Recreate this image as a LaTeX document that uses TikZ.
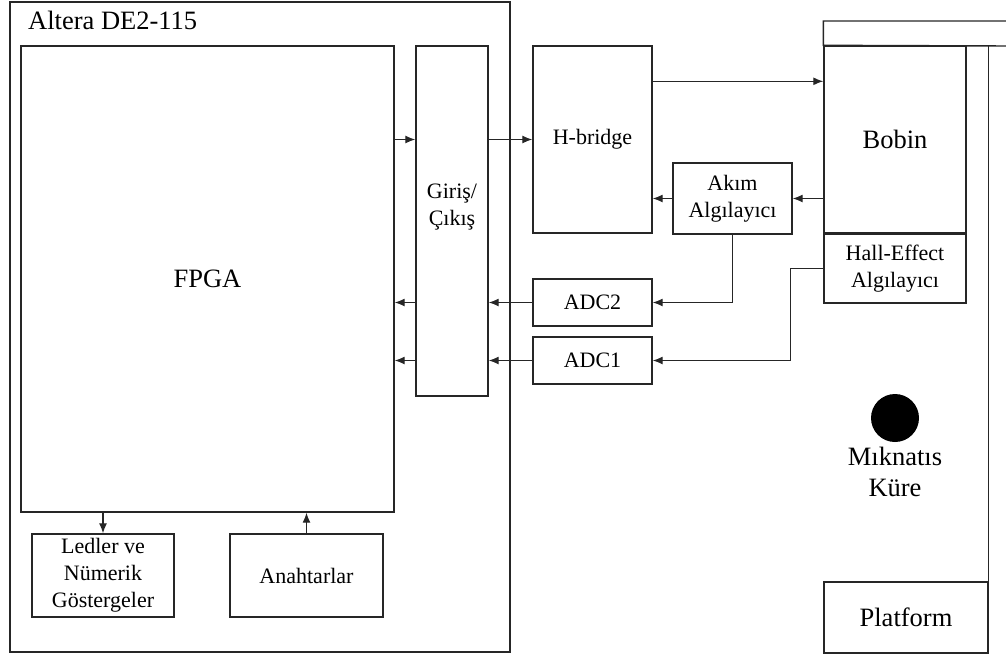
\documentclass[tikz,border=0pt]{standalone}
\usepackage{fontspec}
\setmainfont{Liberation Serif}
\usetikzlibrary{positioning,arrows.meta}

\begin{document}
\begin{tikzpicture}[
  x=1pt, y=-1pt,
  font=\fontsize{22}{27}\selectfont,
  blk/.style = {draw=black!85, line width=1.4pt, minimum width=119pt,
                align=center, inner sep=2pt},
  big/.style = {font=\fontsize{26.5}{31}\selectfont},
  ar/.style  = {-{Latex[length=10pt,width=8pt]}, draw=black!85, line width=1.3pt},
  lbl/.style = {align=center, inner sep=0pt},
]
  \useasboundingbox (0,0) rectangle (1006,659);

  % ---- board ------------------------------------------------
  \node[blk, minimum width=500pt, minimum height=650pt] (de2) at (260, 327) {};
  \node[big, anchor=base west, inner sep=0pt] (de2lbl) at (28, 29) {Altera DE2-115};

  \node[blk, big, minimum width=373pt, minimum height=466pt] (fpga) at (207.5, 279) {FPGA};
  \node[blk, minimum width=72pt, minimum height=350pt] (io) at (452, 221) {};
  \node[lbl] (iotxt) at (452, 207) {Giriş/\\Çıkış};

  \node[blk, minimum width=142pt, minimum height=83pt] (led) at (103, 575.5)
    {Ledler ve\\Nümerik\\Göstergeler};
  \node[blk, minimum width=153pt, minimum height=83pt] (sw) at (306.5, 575.5) {Anahtarlar};

  % ---- driver and converters --------------------------------
  \node[blk, minimum height=187pt] (hb)   at (592.5, 139.5) {H-bridge};
  \node[blk, minimum height=71pt]  (akim) at (732.5, 198.5) {Akım\\Algılayıcı};
  \node[blk, minimum height=47pt]  (adc2) at (592.5, 302.5) {ADC2};
  \node[blk, minimum height=47pt]  (adc1) at (592.5, 360.5) {ADC1};

  % ---- levitation rig ---------------------------------------
  \node[blk, big, minimum width=142pt, minimum height=187pt] (bobin) at (895, 139.5) {Bobin};
  \node[blk, minimum width=142pt, minimum height=69pt] (hall) at (895, 268.5)
    {Hall-Effect\\Algılayıcı};
  \node[blk, big, minimum width=164pt, minimum height=71pt] (plat) at (906, 617.5) {Platform};
  \draw[draw=black!85, line width=1.4pt] (1010, 21) -- (bobin.north west |- 0, 21)
    -- (bobin.north west) -- (1010, 46);
  \draw[draw=black!85, line width=1.4pt] (plat.north east |- bobin.north) -- (plat.south east);

  \node[circle, fill=black, minimum size=48pt, inner sep=0pt] (ball) at (895, 418) {};
  \node[lbl, big] (kure) at (895, 472) {Mıknatıs\\Küre};

  % ---- arrows -----------------------------------------------
  \draw[ar] (fpga.east |- hb) -- (io.west |- hb);
  \draw[ar] (io.east |- hb) -- (hb);
  \draw[ar] ([yshift=-36pt]hb.north east) -- ([yshift=-36pt]bobin.north west);
  \draw[ar] (bobin.west |- akim) -- (akim);
  \draw[ar] (akim) -- (hb.east |- akim);
  \draw[ar] (akim.south) |- (adc2.east);
  \draw[ar] (hall.west) -- ++(-33, 0) |- (adc1.east);

  \draw[ar] (adc2) -- (io.east |- adc2);
  \draw[ar] (adc1) -- (io.east |- adc1);
  \draw[ar] (io.west |- adc2) -- (fpga.east |- adc2);
  \draw[ar] (io.west |- adc1) -- (fpga.east |- adc1);

  \draw[ar] (fpga.south -| led) -- (led.north);
  \draw[ar] (sw.north) -- (fpga.south -| sw);

\end{tikzpicture}
\end{document}
